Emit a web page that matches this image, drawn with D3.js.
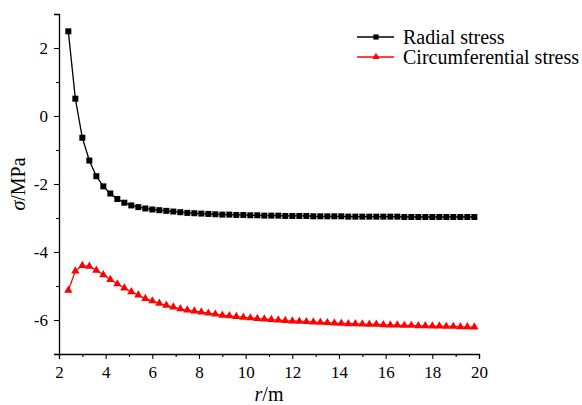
<!DOCTYPE html>
<html>
<head>
<meta charset="utf-8">
<script src="https://cdn.jsdelivr.net/npm/d3@7"></script>
<style>
  html, body { margin: 0; padding: 0; background: #fff; }
  svg { display: block; }
  svg text { font-family: "Liberation Serif", "Times New Roman", serif; }
</style>
</head>
<body>
<svg id="chart" width="582" height="405"></svg>
<script>
// Radius from the opening centre (m)
const radius = [2.4, 2.7, 3.0, 3.3, 3.6, 3.9, 4.2, 4.5, 4.8, 5.1, 5.4, 5.7, 6.0, 6.3, 6.6, 6.9, 7.2, 7.5, 7.8, 8.1,
  8.4, 8.7, 9.0, 9.3, 9.6, 9.9, 10.2, 10.5, 10.8, 11.1, 11.4, 11.7, 12.0, 12.3, 12.6, 12.9, 13.2, 13.5, 13.8, 14.1,
  14.4, 14.7, 15.0, 15.3, 15.6, 15.9, 16.2, 16.5, 16.8, 17.1, 17.4, 17.7, 18.0, 18.3, 18.6, 18.9, 19.2, 19.5, 19.8];

// Radial stress (MPa)
const radialStress = [2.49, 0.51, -0.64, -1.31, -1.77, -2.07, -2.28, -2.44, -2.55, -2.63, -2.68, -2.72, -2.75, -2.77,
  -2.79, -2.81, -2.83, -2.85, -2.86, -2.87, -2.88, -2.89, -2.90, -2.90, -2.91, -2.91, -2.92, -2.92, -2.93, -2.93,
  -2.93, -2.94, -2.94, -2.94, -2.94, -2.95, -2.95, -2.95, -2.95, -2.95, -2.96, -2.96, -2.96, -2.96, -2.96, -2.96,
  -2.96, -2.96, -2.97, -2.97, -2.97, -2.97, -2.97, -2.97, -2.97, -2.97, -2.97, -2.97, -2.97];

// Circumferential (hoop) stress (MPa)
const hoopStress = [-5.13, -4.56, -4.40, -4.42, -4.54, -4.67, -4.81, -4.94, -5.06, -5.17, -5.27, -5.37, -5.44, -5.51,
  -5.57, -5.62, -5.67, -5.71, -5.74, -5.77, -5.80, -5.83, -5.86, -5.88, -5.90, -5.92, -5.94, -5.96, -5.97, -5.99,
  -6.00, -6.02, -6.03, -6.04, -6.05, -6.06, -6.07, -6.08, -6.09, -6.10, -6.11, -6.11, -6.12, -6.13, -6.13, -6.14,
  -6.15, -6.15, -6.16, -6.16, -6.17, -6.17, -6.18, -6.18, -6.19, -6.19, -6.20, -6.20, -6.21];

const xTicks = [2, 4, 6, 8, 10, 12, 14, 16, 18, 20];
const xMinorTicks = [3, 5, 7, 9, 11, 13, 15, 17, 19];
const yTicks = [-6, -4, -2, 0, 2];
const yMinorTicks = [-7, -5, -3, -1, 1, 3];

const seriesNames = ["Radial stress", "Circumferential stress"];
const seriesColors = ["#000000", "#ff0000"];

const SERIF = "'Liberation Serif', 'Times New Roman', serif";
const svg = d3.select("#chart");
const margin = { left: 59, right: 103, top: 14, bottom: 51 };
const W = 582, H = 405;

const x = d3.scaleLinear().domain([2, 20]).range([margin.left, W - margin.right]);
const y = d3.scaleLinear().domain([-7, 3]).range([H - margin.bottom, margin.top]);

const series = [
  { name: seriesNames[0], color: seriesColors[0], symbol: d3.symbolSquare, size: 36,
    points: radius.map((r, i) => [r, radialStress[i]]) },
  { name: seriesNames[1], color: seriesColors[1], symbol: d3.symbolTriangle, size: 30,
    points: radius.map((r, i) => [r, hoopStress[i]]) }
];

// Axes
const fmt = d => String(d);
const xAxis = svg.append("g")
  .attr("transform", `translate(0,${y(-7)})`)
  .call(d3.axisBottom(x).tickValues(xTicks).tickFormat(fmt).tickSize(5).tickPadding(4));
svg.append("g")
  .attr("transform", `translate(0,${y(-7)})`)
  .call(d3.axisBottom(x).tickValues(xMinorTicks).tickFormat("").tickSize(3))
  .call(g => g.select(".domain").remove());

const yAxis = svg.append("g")
  .attr("transform", `translate(${x(2)},0)`)
  .call(d3.axisLeft(y).tickValues(yTicks).tickFormat(fmt).tickSize(5).tickPadding(6));
svg.append("g")
  .attr("transform", `translate(${x(2)},0)`)
  .call(d3.axisLeft(y).tickValues(yMinorTicks).tickFormat("").tickSize(3))
  .call(g => g.select(".domain").remove());

svg.selectAll("g").attr("font-family", null).attr("font-size", null);
svg.selectAll(".domain").attr("stroke", "#000").attr("stroke-width", 1.3);
svg.selectAll(".tick line").attr("stroke", "#000").attr("stroke-width", 1.1);
svg.selectAll(".tick text")
  .attr("fill", "#000")
  .style("font-family", SERIF)
  .style("font-size", "17px");
xAxis.selectAll(".tick text").attr("dy", "0.9em");

// Axis titles
const xTitle = svg.append("text")
  .attr("x", (x(2) + x(20)) / 2)
  .attr("y", 401)
  .attr("text-anchor", "middle")
  .style("font-family", SERIF)
  .style("font-size", "20px");
xTitle.append("tspan").style("font-style", "italic").text("r");
xTitle.append("tspan").text("/m");

const yTitle = svg.append("text")
  .attr("transform", `translate(25,${(y(3) + y(-7)) / 2}) rotate(-90)`)
  .attr("text-anchor", "middle")
  .style("font-family", SERIF)
  .style("font-size", "20px");
yTitle.append("tspan").style("font-style", "italic").text("σ");
yTitle.append("tspan").text("/MPa");

// Series lines and markers
const line = d3.line().x(d => x(d[0])).y(d => y(d[1]));
series.forEach(s => {
  svg.append("path")
    .datum(s.points)
    .attr("d", line)
    .attr("fill", "none")
    .attr("stroke", s.color)
    .attr("stroke-width", 1.3);
  svg.append("g").selectAll("path")
    .data(s.points)
    .join("path")
    .attr("transform", d => `translate(${x(d[0])},${y(d[1])})`)
    .attr("d", d3.symbol().type(s.symbol).size(s.size))
    .attr("fill", s.color);
});

// Legend
const legend = svg.append("g").attr("transform", "translate(357,37)");
series.forEach((s, i) => {
  const g = legend.append("g").attr("transform", `translate(0,${i * 20})`);
  g.append("line").attr("x1", 0).attr("x2", 37).attr("y1", 0).attr("y2", 0)
    .attr("stroke", s.color).attr("stroke-width", 1.3);
  g.append("path").attr("transform", "translate(19,0)")
    .attr("d", d3.symbol().type(s.symbol).size(s.size * 0.75)).attr("fill", s.color);
  g.append("text").attr("x", 46).attr("y", 0).attr("dy", "0.33em")
    .style("font-family", SERIF).style("font-size", "20px").attr("fill", "#000").text(s.name);
});
</script>
</body>
</html>
